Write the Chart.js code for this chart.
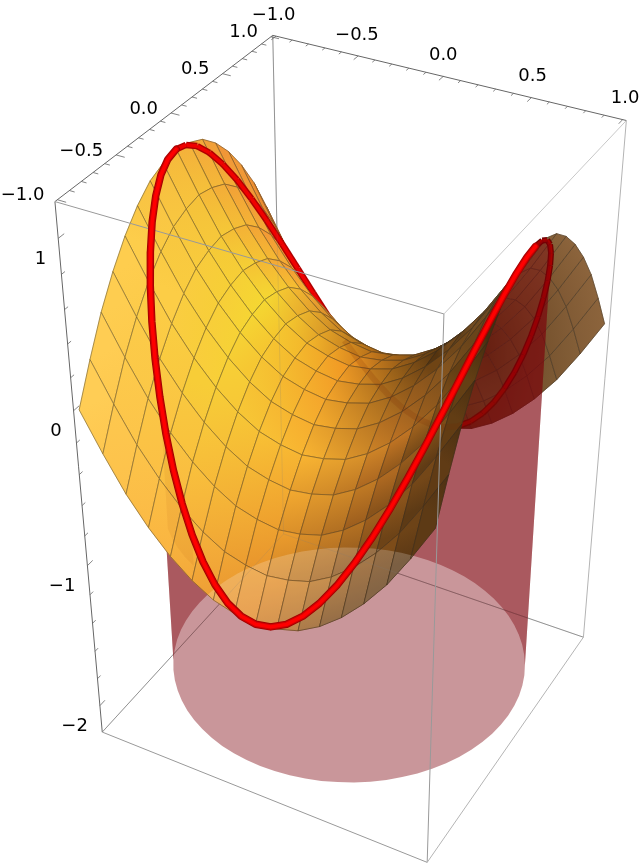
<!DOCTYPE html>
<html><head><meta charset="utf-8">
<style>html,body{margin:0;padding:0;background:#fff}canvas{display:block}</style>
<script src="https://cdn.jsdelivr.net/npm/chart.js@4/dist/chart.umd.min.js"></script>
</head><body><canvas id="c" width="642" height="864"></canvas>
<script>
// ---------- values ----------
const meshX=[-1,-.875,-.75,-.625,-.5,-.375,-.25,-.125,0,.125,.25,.375,.5,.625,.75,.875,1];
const meshY=[-1,-.875,-.75,-.625,-.5,-.375,-.25,-.125,0,.125,.25,.375,.5,.625,.75,.875,1];
const surfaceZ=[
[0,.23,.44,.61,.75,.86,.94,.98,1,.98,.94,.86,.75,.61,.44,.23,0],
[-.23,0,.21,.38,.52,.63,.71,.75,.77,.75,.71,.63,.52,.38,.21,0,-.23],
[-.44,-.21,0,.17,.31,.42,.5,.54,.56,.54,.5,.42,.31,.17,0,-.21,-.44],
[-.61,-.38,-.17,0,.14,.25,.33,.37,.39,.37,.33,.25,.14,0,-.17,-.38,-.61],
[-.75,-.52,-.31,-.14,0,.11,.19,.23,.25,.23,.19,.11,0,-.14,-.31,-.52,-.75],
[-.86,-.63,-.42,-.25,-.11,0,.08,.12,.14,.12,.08,0,-.11,-.25,-.42,-.63,-.86],
[-.94,-.71,-.5,-.33,-.19,-.08,0,.04,.06,.04,0,-.08,-.19,-.33,-.5,-.71,-.94],
[-.98,-.75,-.54,-.37,-.23,-.12,-.04,0,.02,0,-.04,-.12,-.23,-.37,-.54,-.75,-.98],
[-1,-.77,-.56,-.39,-.25,-.14,-.06,-.02,0,-.02,-.06,-.14,-.25,-.39,-.56,-.77,-1],
[-.98,-.75,-.54,-.37,-.23,-.12,-.04,0,.02,0,-.04,-.12,-.23,-.37,-.54,-.75,-.98],
[-.94,-.71,-.5,-.33,-.19,-.08,0,.04,.06,.04,0,-.08,-.19,-.33,-.5,-.71,-.94],
[-.86,-.63,-.42,-.25,-.11,0,.08,.12,.14,.12,.08,0,-.11,-.25,-.42,-.63,-.86],
[-.75,-.52,-.31,-.14,0,.11,.19,.23,.25,.23,.19,.11,0,-.14,-.31,-.52,-.75],
[-.61,-.38,-.17,0,.14,.25,.33,.37,.39,.37,.33,.25,.14,0,-.17,-.38,-.61],
[-.44,-.21,0,.17,.31,.42,.5,.54,.56,.54,.5,.42,.31,.17,0,-.21,-.44],
[-.23,0,.21,.38,.52,.63,.71,.75,.77,.75,.71,.63,.52,.38,.21,0,-.23],
[0,.23,.44,.61,.75,.86,.94,.98,1,.98,.94,.86,.75,.61,.44,.23,0]];
const ringX=[1,.996,.985,.966,.94,.906,.866,.819,.766,.707,.643,.574,.5,.423,.342,.259,.174,.087,
0,-.087,-.174,-.259,-.342,-.423,-.5,-.574,-.643,-.707,-.766,-.819,-.866,-.906,-.94,-.966,-.985,-.996,
-1,-.996,-.985,-.966,-.94,-.906,-.866,-.819,-.766,-.707,-.643,-.574,-.5,-.423,-.342,-.259,-.174,-.087,
0,.087,.174,.259,.342,.423,.5,.574,.643,.707,.766,.819,.866,.906,.94,.966,.985,.996];
const ringY=[0,.087,.174,.259,.342,.423,.5,.574,.643,.707,.766,.819,.866,.906,.94,.966,.985,.996,
1,.996,.985,.966,.94,.906,.866,.819,.766,.707,.643,.574,.5,.423,.342,.259,.174,.087,
0,-.087,-.174,-.259,-.342,-.423,-.5,-.574,-.643,-.707,-.766,-.819,-.866,-.906,-.94,-.966,-.985,-.996,
-1,-.996,-.985,-.966,-.94,-.906,-.866,-.819,-.766,-.707,-.643,-.574,-.5,-.423,-.342,-.259,-.174,-.087];
const ringZ=[1,.985,.94,.866,.766,.643,.5,.342,.174,0,-.174,-.342,-.5,-.643,-.766,-.866,-.94,-.985,
-1,-.985,-.94,-.866,-.766,-.643,-.5,-.342,-.174,0,.174,.342,.5,.643,.766,.866,.94,.985,
1,.985,.94,.866,.766,.643,.5,.342,.174,0,-.174,-.342,-.5,-.643,-.766,-.866,-.94,-.985,
-1,-.985,-.94,-.866,-.766,-.643,-.5,-.342,-.174,0,.174,.342,.5,.643,.766,.866,.94,.985];
const floorZ=-2;
const boxX=[-1.02,1.02], boxY=[-1.02,1.02], boxZ=[-2.2,1.2];
const xTickValues=[-1,-.9,-.8,-.7,-.6,-.5,-.4,-.3,-.2,-.1,0,.1,.2,.3,.4,.5,.6,.7,.8,.9,1];
const yTickValues=[-1,-.9,-.8,-.7,-.6,-.5,-.4,-.3,-.2,-.1,0,.1,.2,.3,.4,.5,.6,.7,.8,.9,1];
const zTickValues=[1,.8,.6,.4,.2,0,-.2,-.4,-.6,-.8,-1,-1.2,-1.4,-1.6,-1.8,-2];
const xLabels=[-1,-.5,0,.5,1], xLabelText=["\u22121.0","\u22120.5","0.0","0.5","1.0"];
const yLabels=[-1,-.5,0,.5,1], yLabelText=["\u22121.0","\u22120.5","0.0","0.5","1.0"];
const zLabels=[1,0,-1,-2], zLabelText=["1","0","\u22121","\u22122"];
// where the box corners and some ticks sit in the picture: the view calibration
const anchorWorld=[[-1.02,-1.02,1.2],[-1.02,1.02,1.2],[1.02,1.02,1.2],[1.02,-1.02,1.2],[-1.02,-1.02,-2.2],[1.02,-1.02,-2.2],[1.02,1.02,-2.2],[-1.02,1.02,-2.2],[-1.02,-1.02,1],[-1.02,-1.02,0],[-1.02,-1.02,-1],[-1.02,-1.02,-2],[-1.02,0,1.2],[0,1.02,1.2]];
const anchorImage=[[54,202],[272.5,34.5],[626,119],[444.5,315],[101.7,733],[427.3,862.7],[583.3,636.7],[284,535],[58,238],[73,411],[90,565],[98.5,704],[172,113],[443,78]];
// colours of the sheet read at x = -1,-.5,0,.5,1 (rows) and y = -1,-.5,0,.5,1 (columns)
const sheetColours=[
[[255,205,85],[253,205,75],[245,185,60],[240,150,55],[235,130,40]],
[[250,180,65],[247,205,55],[245,215,50],[245,160,50],[200,110,30]],
[[225,135,40],[248,180,50],[240,150,35],[130,75,15],[90,55,15]],
[[125,75,25],[190,115,35],[85,52,15],[85,50,20],[110,80,45]],
[[80,50,20],[70,45,15],[130,95,55],[140,100,60],[140,100,60]]];

// ---------- view ----------
function solve(A,b){const n=b.length;A=A.map((r,i)=>[...r,b[i]]);
 for(let c=0;c<n;c++){let p=c;for(let r=c+1;r<n;r++)if(Math.abs(A[r][c])>Math.abs(A[p][c]))p=r;[A[c],A[p]]=[A[p],A[c]];
  for(let r=0;r<n;r++)if(r!==c){const f=A[r][c]/A[c][c];for(let k=c;k<=n;k++)A[r][k]-=f*A[c][k];}}
 return A.map((r,i)=>r[n]/r[i]);}
const rows=[],rhs=[];
anchorWorld.forEach((w,i)=>{const [X,Y,Z]=w,u=anchorImage[i][0]/500,v=anchorImage[i][1]/500;
 rows.push([X,Y,Z,1,0,0,0,0,-u*X,-u*Y,-u*Z]);rhs.push(u);
 rows.push([0,0,0,0,X,Y,Z,1,-v*X,-v*Y,-v*Z]);rhs.push(v);});
const N=Array.from({length:11},(_,a)=>Array.from({length:11},(_,b)=>rows.reduce((s,r)=>s+r[a]*r[b],0)));
const nb=Array.from({length:11},(_,a)=>rows.reduce((s,r,i)=>s+r[a]*rhs[i],0));
const P=solve(N,nb);P.push(1);
function project(x,y,z){const w=P[8]*x+P[9]*y+P[10]*z+P[11];
 return {x:500*(P[0]*x+P[1]*y+P[2]*z+P[3])/w,y:500*(P[4]*x+P[5]*y+P[6]*z+P[7])/w};}
const eye=solve([[P[0],P[1],P[2]],[P[4],P[5],P[6]],[P[8],P[9],P[10]]],[-P[3],-P[7],-P[11]]);

// ---------- shading ----------
function nodeColour(i,j){const u=Math.min((meshX[i]+1)*2,3.9999),v=Math.min((meshY[j]+1)*2,3.9999),a=Math.floor(u),b=Math.floor(v),f=u-a,g=v-b;
 return [0,1,2].map(k=>(1-f)*(1-g)*sheetColours[a][b][k]+f*(1-g)*sheetColours[a+1][b][k]+(1-f)*g*sheetColours[a][b+1][k]+f*g*sheetColours[a+1][b+1][k]);}
const rgb=c=>`rgb(${c.map(Math.round).join(',')})`;

// ---------- paint list ----------
const paint=[];
const line=(pts,color,width,extra)=>Object.assign({data:pts,borderColor:color,borderWidth:width,showLine:true,fill:false,pointRadius:0,tension:0,clip:false,borderCapStyle:'butt',borderJoinStyle:'round'},extra||{});
const edge=(a,b)=>[project(...a),project(...b)];
const [x0,x1]=boxX,[y0,y1]=boxY,[z0,z1]=boxZ;
const lightGrey='#b4b4b4',midGrey='#999999',axisGrey='#666666';
function ticks(list,fn){const out=[];list.forEach(v=>{const [a,b]=fn(v);out.push(project(...a),project(...b),{x:NaN,y:NaN});});return out;}
const none='rgba(0,0,0,0)';
const count=ringX.length;
const ringAt=(k,z)=>{const q=k%count;return project(ringX[q],ringY[q],z===undefined?ringZ[q]:z);};

// box, rear part
const rear=[[[x0,y1,z1],[x0,y1,z0]],[[x0,y1,z0],[x0,y0,z0]],[[x0,y1,z0],[x1,y1,z0]]];
rear.forEach(e=>paint.push(line(edge(e[0],e[1]),midGrey,1)));
paint.push(line(edge([x0,y0,z1],[x0,y1,z1]),axisGrey,1));
paint.push(line(edge([x0,y1,z1],[x1,y1,z1]),axisGrey,1));
paint.push(line(edge([x0,y0,z1],[x0,y0,z0]),axisGrey,1));
const major=v=>Math.abs(v*2-Math.round(v*2))<1e-6;
paint.push(line(ticks(yTickValues,v=>[[x0,v,z1],[x0+(major(v)?.05:.03),v,z1]]),axisGrey,.8));
paint.push(line(ticks(xTickValues,v=>[[v,y1,z1],[v,y1-(major(v)?.05:.03),z1]]),axisGrey,.8));
paint.push(line(ticks(zTickValues,v=>[[x0,y0,v],[x0,y0+(Number.isInteger(v)?.05:.03),v]]),axisGrey,.8));

// floor disc and ring outlines: used as clips
const allK=Array.from({length:count+1},(_,k)=>k);
paint.push(line(allK.map(k=>ringAt(k,floorZ)),none,0,{polyFill:'rgba(255,255,255,.01)',isDisc:true}));
paint.push(line(allK.map(k=>ringAt(k)),none,0,{isRing:true}));

// sheet cells sorted into layers
const far=(x,y)=>-Math.hypot(x-eye[0],y-eye[1]);
const rearOuter=[],inner=[],nearOuter=[];
for(let i=0;i<meshX.length-1;i++)for(let j=0;j<meshY.length-1;j++){
 const c=[[i,j],[i+1,j],[i+1,j+1],[i,j+1]];
 const pts=c.map(q=>project(meshX[q[0]],meshY[q[1]],surfaceZ[q[0]][q[1]]));
 const cols=c.map(q=>nodeColour(q[0],q[1]));
 let a=0,b=0,best=-1;for(let p=0;p<4;p++)for(let q=p+1;q<4;q++){const d=Math.abs(cols[p][1]-cols[q][1])+Math.abs(cols[p][0]-cols[q][0]);if(d>best){best=d;a=p;b=q;}}
 const mx=(meshX[i]+meshX[i+1])/2,my=(meshY[j]+meshY[j+1])/2,key=far(mx,my);
 const make=extra=>line(pts.concat([pts[0]]),'rgba(45,40,30,.56)',.75,Object.assign({gradient:[pts[a],pts[b],rgb(cols[a]),rgb(cols[b])]},extra||{}));
 const outside=c.some(q=>Math.hypot(meshX[q[0]],meshY[q[1]])>1);
 if(!outside) inner.push({key,ds:[make()]});
 else if(my>0){rearOuter.push({key,ds:[make()]});
  if(c.some(q=>Math.hypot(meshX[q[0]],meshY[q[1]])<=1)) inner.push({key,ds:[make({ringClip:true})]});}
 else nearOuter.push({key,ds:[make()]});
}
// rear half of the tube goes with the inner cells
for(let k=0;k<36;k++){const s=[ringAt(k),ringAt(k+1)],dim=k<20;
 inner.push({key:far((ringX[k]+ringX[k+1])/2,(ringY[k]+ringY[k+1])/2)+.25,ds:[line(s,dim?'#700000':'#b00000',dim?6:6.5),line(s,dim?'#a80000':'#f00000',dim?3.4:3.6)]});}
const wallColour='rgba(124,0,10,.41)';
const wall=(a,b)=>{const up=[],down=[];for(let k=a;k<=b;k++){up.push(ringAt(k,floorZ));down.unshift(ringAt(k));}return line(up.concat(down,[up[0]]),none,0,{polyFill:wallColour});};
// the wall splits into rear and near parts where the floor circle turns in the picture
const floorPixelX=k=>ringAt(k,floorZ).x;
let rightTurn=0,leftTurn=0;
for(let k=0;k<count;k++){if(floorPixelX(k)>floorPixelX(rightTurn))rightTurn=k;if(floorPixelX(k)<floorPixelX(leftTurn))leftTurn=k;}
const bySort=list=>list.sort((p,q)=>p.key-q.key).forEach(o=>paint.push(...o.ds));
bySort(rearOuter);
paint.push(wall(rightTurn,leftTurn));
bySort(inner);
paint.push(wall(leftTurn,rightTurn+count));
bySort(nearOuter);

// rear lines faintly through the sheet
rear.forEach(e=>paint.push(line(edge(e[0],e[1]),'rgba(120,120,120,.18)',1)));
// rear tube and wall edge faintly through the sheet
paint.push(line(Array.from({length:13},(_,n)=>ringAt(12+n)),'rgba(120,40,0,.16)',6));
{const up=[],down=[];for(let k=45;k<=49;k++){up.push(ringAt(k,-.85));down.unshift(ringAt(k));}paint.push(line(up.concat(down,[up[0]]),none,0,{polyFill:'rgba(150,60,0,.07)'}));}
// box, front part
paint.push(line(edge([x0,y0,z1],[x1,y0,z1]),midGrey,1));
paint.push(line(edge([x1,y0,z1],[x1,y1,z1]),'#c8c8c8',1));
paint.push(line(edge([x1,y1,z1],[x1,y1,z0]),lightGrey,1));
paint.push(line(edge([x1,y0,z1],[x1,y0,z0]),midGrey,1));
paint.push(line(edge([x0,y0,z0],[x1,y0,z0]),midGrey,1));
paint.push(line(edge([x1,y0,z0],[x1,y1,z0]),lightGrey,1));
// near half of the tube
const nearK=Array.from({length:37},(_,n)=>ringAt(36+n));
paint.push(line(nearK,'#a00000',7.4,{borderCapStyle:'round'}));
paint.push(line(nearK,'#d40000',5.6,{borderCapStyle:'round'}));
paint.push(line(nearK,'#ff0000',3.4,{borderCapStyle:'round'}));

// Chart.js draws the first dataset last, so hand the list over reversed
const datasets=paint.slice().reverse();

function tracePath(ctx,pts){ctx.beginPath();pts.forEach((p,i)=>i?ctx.lineTo(p.x,p.y):ctx.moveTo(p.x,p.y));ctx.closePath();}
const polygonPlugin={id:'polygons',beforeDatasetDraw(chart,args){
 const ds=chart.data.datasets[args.index];
 const ctx=chart.ctx,pts=args.meta.data;
 if(ds.ringClip){ctx.save();tracePath(ctx,chart.getDatasetMeta(chart.data.datasets.findIndex(d=>d.isRing)).data);ctx.clip();}
 if(!ds.polyFill&&!ds.gradient)return;
 ctx.save();tracePath(ctx,pts);
 if(ds.gradient){const [a,b,ca,cb]=ds.gradient;const sx=chart.scales.x,sy=chart.scales.y;
  const g=ctx.createLinearGradient(sx.getPixelForValue(a.x),sy.getPixelForValue(a.y),sx.getPixelForValue(b.x),sy.getPixelForValue(b.y));
  g.addColorStop(0,ca);g.addColorStop(1,cb);ctx.fillStyle=g;ctx.strokeStyle=g;ctx.lineWidth=.7;ctx.fill();ctx.stroke();
  ctx.save();tracePath(ctx,chart.getDatasetMeta(chart.data.datasets.findIndex(d=>d.isDisc)).data);ctx.clip();tracePath(ctx,pts);ctx.fillStyle='rgba(255,255,255,.2)';ctx.fill();ctx.restore();
 }else{ctx.fillStyle=ds.polyFill;ctx.fill();}
 ctx.restore();},
 afterDatasetDraw(chart,args){if(chart.data.datasets[args.index].ringClip)chart.ctx.restore();}};
const labelPlugin={id:'tickLabels',afterDatasetsDraw(chart){
 const ctx=chart.ctx,sx=chart.scales.x,sy=chart.scales.y;ctx.save();ctx.fillStyle='#000';ctx.font='18px "DejaVu Sans"';ctx.textBaseline='middle';
 const put=(t,p,dx,dy,al)=>{ctx.textAlign=al;ctx.fillText(t,sx.getPixelForValue(p.x)+dx,sy.getPixelForValue(p.y)+dy);};
 yLabels.forEach((v,i)=>put(yLabelText[i],project(x0,v,z1),-13,-4,'right'));
 xLabels.forEach((v,i)=>put(xLabelText[i],project(v,y1,z1),v*2.5,-21,'center'));
 zLabels.forEach((v,i)=>put(zLabelText[i],project(x0,y0,v),-12,21,'right'));
 ctx.restore();}};

new Chart(document.getElementById('c'),{type:'scatter',data:{datasets},plugins:[polygonPlugin,labelPlugin],
 options:{responsive:false,animation:false,events:[],layout:{padding:0},
  plugins:{legend:{display:false},tooltip:{enabled:false},title:{display:false}},
  scales:{x:{type:'linear',display:false,min:0,max:642},y:{type:'linear',display:false,min:0,max:864,reverse:true}}}});
</script></body></html>
